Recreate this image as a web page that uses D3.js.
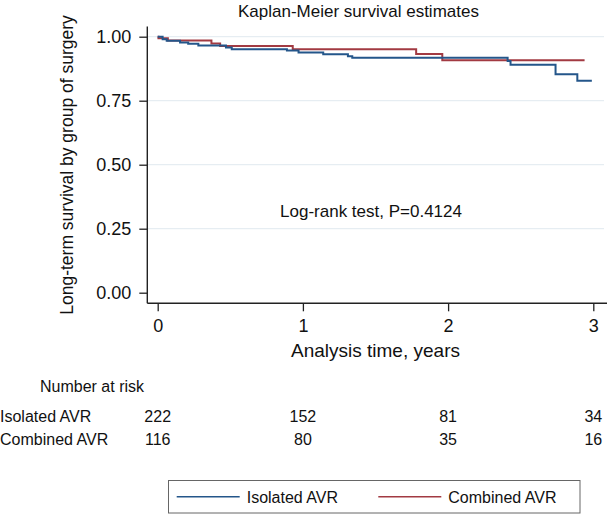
<!DOCTYPE html>
<html><head><meta charset="utf-8">
<script src="https://cdn.jsdelivr.net/npm/d3@7"></script>
<style>
html,body{margin:0;padding:0;background:#fff;}
svg text{font-family:"Liberation Sans",Arial,Helvetica,sans-serif;fill:#111;}
</style></head>
<body>
<svg id="chart" width="607" height="516"></svg>
<script>
// ---- data ----
const isolatedTimes = [0, 0.034, 0.062, 0.154, 0.21, 0.28, 0.47, 0.51, 0.89, 0.97, 1.14, 1.31, 1.34, 2.41, 2.43, 2.74, 2.89, 2.99];
const isolatedSurv  = [1.0, 0.990, 0.984, 0.977, 0.972, 0.966, 0.958, 0.951, 0.946, 0.938, 0.931, 0.924, 0.918, 0.905, 0.890, 0.853, 0.828, 0.828];
const combinedTimes = [0, 0.005, 0.07, 0.37, 0.43, 0.93, 1.78, 1.96, 2.94];
const combinedSurv  = [1.0, 0.994, 0.985, 0.973, 0.964, 0.951, 0.932, 0.908, 0.908];
const seriesNames = ["Isolated AVR", "Combined AVR"];
const xTicks = [0, 1, 2, 3];
const yTicks = [0, 0.25, 0.5, 0.75, 1.0];
const riskTimes = [0, 1, 2, 3];
const riskIsolated = [222, 152, 81, 34];
const riskCombined = [116, 80, 35, 16];
const titleText = "Kaplan-Meier survival estimates";
const xTitle = "Analysis time, years";
const yTitle = "Long-term survival by group of surgery";
const noteText = "Log-rank test, P=0.4124";

const colors = ["#24568a", "#a23a42"];

const svg = d3.select("#chart");
const x = d3.scaleLinear().domain([0, 3]).range([157.7, 593.3]);
const y = d3.scaleLinear().domain([0, 1]).range([292.7, 36.7]);
const plotLeft = 147.3, plotRight = 604, axisY = 303.3, plotTop = 26.5;

// gridlines
svg.append("g").selectAll("line").data(yTicks.filter(d => d > 0)).join("line")
  .attr("x1", plotLeft).attr("x2", plotRight)
  .attr("y1", d => y(d)).attr("y2", d => y(d))
  .attr("stroke", "#e6edf2").attr("stroke-width", 1.2);

// y axis
const yAxis = d3.axisLeft(y).tickValues(yTicks).tickFormat(d3.format(".2f")).tickSize(8).tickPadding(8);
const gy = svg.append("g").attr("transform", `translate(${plotLeft},0)`).call(yAxis);
gy.select(".domain").remove();
gy.selectAll(".tick line").attr("stroke", "#222").attr("stroke-width", 1.3);
gy.selectAll(".tick text").style("font-size", "18px").attr("fill", "#111");
svg.append("line").attr("x1", plotLeft).attr("x2", plotLeft).attr("y1", plotTop).attr("y2", axisY)
  .attr("stroke", "#222").attr("stroke-width", 1.4);

// x axis
const xAxis = d3.axisBottom(x).tickValues(xTicks).tickFormat(d3.format("d")).tickSize(8).tickPadding(8);
const gx = svg.append("g").attr("transform", `translate(0,${axisY})`).call(xAxis);
gx.select(".domain").remove();
gx.selectAll(".tick line").attr("stroke", "#222").attr("stroke-width", 1.3);
gx.selectAll(".tick text").style("font-size", "18px").attr("fill", "#111");
svg.append("line").attr("x1", plotLeft).attr("x2", 607).attr("y1", axisY).attr("y2", axisY)
  .attr("stroke", "#222").attr("stroke-width", 1.4);

// curves
const line = d3.line().x(d => x(d[0])).y(d => y(d[1])).curve(d3.curveStepAfter);
const series = [
  d3.zip(isolatedTimes, isolatedSurv),
  d3.zip(combinedTimes, combinedSurv)
];
[1, 0].forEach(i => {
  svg.append("path").datum(series[i]).attr("d", line)
    .attr("fill", "none").attr("stroke", colors[i]).attr("stroke-width", 2);
});

// titles
svg.append("text").attr("x", 238).attr("y", 17).style("font-size", "17px").text(titleText);
svg.append("text").attr("x", x(1.5)).attr("y", 357).attr("text-anchor", "middle")
  .style("font-size", "19px").text(xTitle);
svg.append("text").attr("transform", "translate(73,165) rotate(-90)").attr("text-anchor", "middle")
  .style("font-size", "17.5px").text(yTitle);
svg.append("text").attr("x", 371).attr("y", 217).attr("text-anchor", "middle")
  .style("font-size", "17px").text(noteText);

// risk table
svg.append("text").attr("x", 40).attr("y", 392).style("font-size", "16px").text("Number at risk");
const rows = [riskIsolated, riskCombined];
const rowY = [421.7, 445];
rows.forEach((r, i) => {
  svg.append("text").attr("x", 0).attr("y", rowY[i]).style("font-size", "16px").text(seriesNames[i]);
  svg.append("g").selectAll("text").data(r).join("text")
    .attr("x", (d, j) => x(riskTimes[j])).attr("y", rowY[i])
    .attr("text-anchor", "middle").style("font-size", "16px").text(d => d);
});

// legend
const lg = svg.append("g");
lg.append("rect").attr("x", 168.5).attr("y", 480.5).attr("width", 411.5).attr("height", 32.5)
  .attr("fill", "#fff").attr("stroke", "#666").attr("stroke-width", 1);
const legX = [176.7, 378.3];
seriesNames.forEach((n, i) => {
  lg.append("line").attr("x1", legX[i]).attr("x2", legX[i] + 63).attr("y1", 496.7).attr("y2", 496.7)
    .attr("stroke", colors[i]).attr("stroke-width", 1.4);
  lg.append("text").attr("x", legX[i] + 70).attr("y", 502.5).style("font-size", "16px").text(n);
});
</script>
</body></html>
